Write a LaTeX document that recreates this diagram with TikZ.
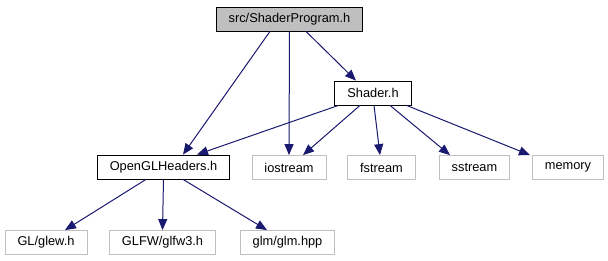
\documentclass[tikz,border=0pt]{standalone}
\usepackage{fontspec}
\setmainfont{Liberation Sans}
\usepackage{tikz}
\usetikzlibrary{arrows.meta}
\definecolor{edgeblue}{RGB}{25,25,112}
\definecolor{sysgray}{RGB}{191,191,191}
\tikzstyle{arrow} = [edgeblue,line width=1pt,-{Triangle[length=11pt,width=9pt]}]

\begin{document}
\begin{tikzpicture}[x=1pt,y=-1pt,
    file/.style={rectangle, draw, line width=0.8pt, inner xsep=12.5pt, inner ysep=0pt,
        minimum height=24pt, anchor=center, font=\fontsize{12.8}{15}\selectfont},
    mainfile/.style={file, fill=sysgray},
    sysfile/.style={file, draw=sysgray}]
    \useasboundingbox (0,0) rectangle (608,261);

    \node[mainfile] (prog) at (289.5,19) {src/ShaderProgram.h};
    \node[file] (shader) at (373,93) {Shader.h};
    \node[file] (glheaders) at (163.5,167) {OpenGLHeaders.h};
    \node[sysfile] (iostream) at (289,167.5) {iostream};
    \node[sysfile] (fstream) at (381.5,167.5) {fstream};
    \node[sysfile] (sstream) at (474.5,167.5) {sstream};
    \node[sysfile] (memory) at (568,167.5) {memory};
    \node[sysfile] (glew) at (46,242.5) {GL/glew.h};
    \node[sysfile] (glfw) at (162.5,242.5) {GLFW/glfw3.h};
    \node[sysfile] (glm) at (287.5,242.5) {glm/glm.hpp};

    \draw[arrow] ([xshift=-19.5pt]prog.south) -- ([xshift=19.5pt]glheaders.north);
    \draw[arrow] (prog.south) -- (iostream.north);
    \draw[arrow] ([xshift=16.5pt]prog.south) -- ([xshift=-17pt]shader.north);

    \draw[arrow] ([xshift=4pt]shader.south west) -- ([xshift=33.5pt]glheaders.north);
    \draw[arrow] ([xshift=-13pt]shader.south) -- ([xshift=14pt]iostream.north);
    \draw[arrow] ([xshift=1pt]shader.south) -- ([xshift=-1.5pt]fstream.north);
    \draw[arrow] ([xshift=17pt]shader.south) -- ([xshift=-24.5pt]sstream.north);
    \draw[arrow] ([xshift=-5pt]shader.south east) -- ([xshift=-38pt]memory.north);

    \draw[arrow] ([xshift=-17.5pt]glheaders.south) -- ([xshift=19pt]glew.north);
    \draw[arrow] (glheaders.south) -- (glfw.north);
    \draw[arrow] ([xshift=19.5pt]glheaders.south) -- ([xshift=-20.5pt]glm.north);
\end{tikzpicture}
\end{document}
